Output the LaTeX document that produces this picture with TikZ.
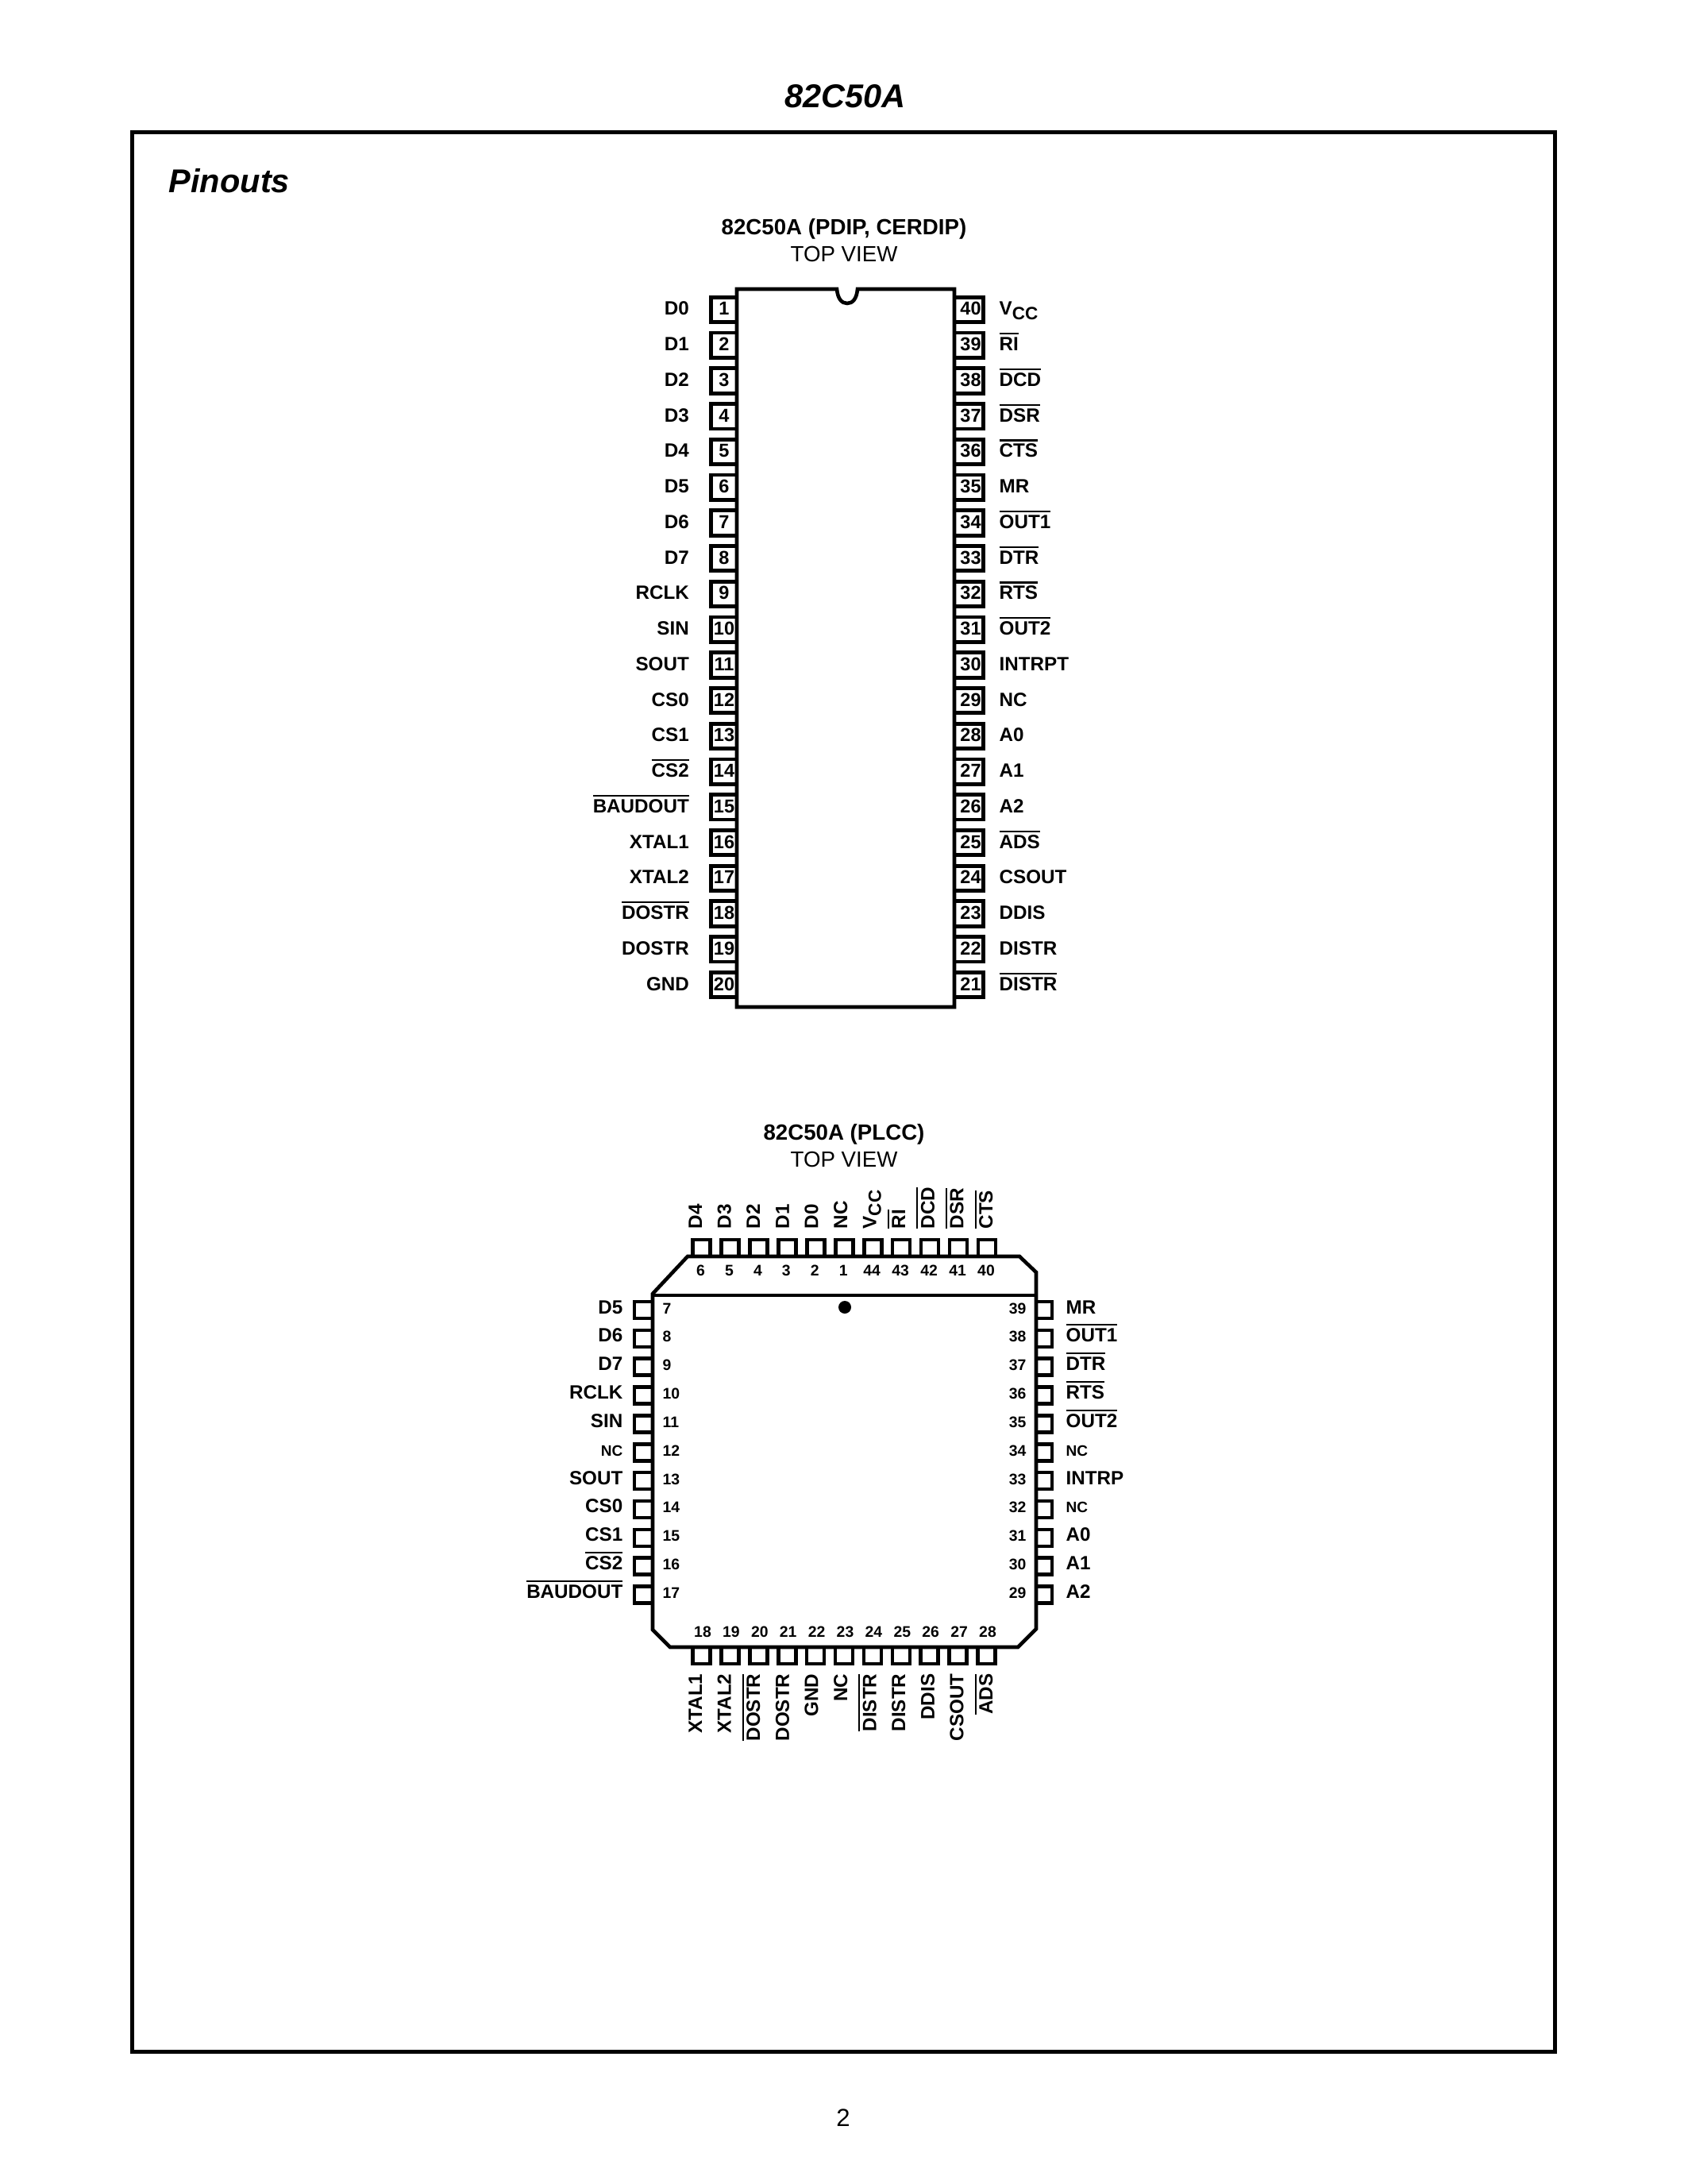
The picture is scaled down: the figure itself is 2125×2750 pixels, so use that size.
\documentclass[tikz,border=0pt]{standalone}
\usepackage{fontspec}
\setmainfont{Liberation Sans}
\newcommand\fs[1]{\fontsize{#1}{#1}\selectfont}
\newcommand\ol[1]{\setbox0=\hbox{#1}\rlap{\raisebox{5.9pt}{\rule{\wd0}{0.6pt}}}\box0}
\newcommand\vcc{V\raisebox{-1.7pt}{\fs{6.5}CC}}
\newcommand\smallncL{{\fs{5.5}NC}}
\tikzset{
  lbl/.style={inner sep=0pt,font=\fs{7}\bfseries},
  lblL/.style={lbl,anchor=base east},
  lblR/.style={lbl,anchor=base west},
  lblU/.style={lbl,rotate=90,anchor=base west},
  lblD/.style={lbl,rotate=90,anchor=base east},
  dipnum/.style={inner sep=0pt,font=\fs{6.8}\bfseries,anchor=base},
  pnum/.style={inner sep=0pt,font=\fs{5.6}\bfseries,anchor=base},
  pnumL/.style={pnum,anchor=base west},
  pnumR/.style={pnum,anchor=base east},
  head/.style={inner sep=0pt,font=\fs{8}\bfseries,anchor=base},
  view/.style={inner sep=0pt,font=\fs{8},anchor=base},
  title/.style={inner sep=0pt,font=\fs{12}\bfseries\itshape,anchor=base},
  frameline/.style={line width=5*0.28908pt,line join=miter},
  bodyline/.style={line width=4.6*0.28908pt,line join=miter},
  pinbox/.style={line width=4.8*0.28908pt,line join=miter},
  lccbox/.style={line width=4.6*0.28908pt,line join=miter},
}
\begin{document}
\begin{tikzpicture}[x=0.28908pt,y=-0.28908pt]
\useasboundingbox[fill=white] (0,0) rectangle (2125,2750);
% page
\node[title] (pagetitle) at (1064.5,135.5) {82C50A};
\draw[frameline] (166.5,167) rectangle (1958,2583);
\node[title,anchor=base west] (pinouts) at (212,243) {Pinouts};
\node[inner sep=0pt,font=\fs{9},anchor=base] (pageno) at (1062,2677) {2};
% DIP
\node[head] (diphead) at (1063,296) {82C50A (PDIP, CERDIP)};
\node[view] (dipview) at (1063,330) {TOP VIEW};
\draw[bodyline] (1054,364) .. controls (1055,376) and (1060,382) .. (1067,382) .. controls (1074,382) and (1079,376) .. (1080,364) -- (1202,364) -- (1202,1268) -- (928,1268) -- (928,364) -- cycle;
\draw[line width=1.4*0.28908pt] (1060,1269.5) -- (1202,1269.5);
\foreach \t [count=\i from 1] in {D0,D1,D2,D3,D4,D5,D6,D7,RCLK,SIN,SOUT,CS0,CS1,{\ol{CS2}},{\ol{BAUDOUT}},XTAL1,XTAL2,{\ol{DOSTR}},DOSTR,GND}{
  \pgfmathsetmacro\yy{390+44.74*(\i-1)}
  \draw[pinbox] (928,\yy-15.7) -- (895.5,\yy-15.7) -- (895.5,\yy+15.7) -- (928,\yy+15.7);
  \node[dipnum] (dipn\i) at (912,\yy+7) {\i};
  \node[lblL] (dipl\i) at (868.5,\yy+7) {\t};
}
\foreach \t [count=\j from 0] in {\vcc,{\ol{RI}},{\ol{DCD}},{\ol{DSR}},{\ol{CTS}},MR,{\ol{OUT1}},{\ol{DTR}},{\ol{RTS}},{\ol{OUT2}},INTRPT,NC,A0,A1,A2,{\ol{ADS}},CSOUT,DDIS,DISTR,{\ol{DISTR}}}{
  \pgfmathsetmacro\yy{390+44.74*\j}
  \pgfmathtruncatemacro\n{40-\j}
  \draw[pinbox] (1202,\yy-15.7) -- (1238.5,\yy-15.7) -- (1238.5,\yy+15.7) -- (1202,\yy+15.7);
  \node[dipnum] (dipn\n) at (1222.5,\yy+7) {\n};
  \node[lblR] (dipl\n) at (1258,\yy+7) {\t};
}
% PLCC
\node[head] (plcchead) at (1063,1435) {82C50A (PLCC)};
\node[view] (plccview) at (1063,1469) {TOP VIEW};
\draw[bodyline] (866,1582) -- (1284,1582) -- (1305,1602) -- (1305,2051) -- (1282,2074) -- (844,2074) -- (822,2052) -- (822,1629) -- cycle;
\draw[bodyline] (822,1631) -- (1305,1631);
\fill (1064,1646) circle[radius=8];
\foreach \t/\n [count=\j from 0] in {D4/6,D3/5,D2/4,D1/3,D0/2,NC/1,\vcc/44,{\ol{RI}}/43,{\ol{DCD}}/42,{\ol{DSR}}/41,{\ol{CTS}}/40}{
  \pgfmathsetmacro\xx{883.5+35.95*\j}
  \draw[lccbox] (\xx-11,1582) -- (\xx-11,1561) -- (\xx+11,1561) -- (\xx+11,1582);
  \node[pnum] (pn\n) at (\xx-1,1606) {\n};
  \node[lblU] (pl\n) at (884+36.6*\j,1548) {\t};
}
\foreach \t/\n [count=\j from 0] in {D5/7,D6/8,D7/9,RCLK/10,SIN/11,\smallncL/12,SOUT/13,CS0/14,CS1/15,{\ol{CS2}}/16,{\ol{BAUDOUT}}/17}{
  \pgfmathsetmacro\yy{1649.5+35.85*\j}
  \draw[lccbox] (822,\yy-10.5) -- (799,\yy-10.5) -- (799,\yy+10.5) -- (822,\yy+10.5);
  \node[pnumL] (pn\n) at (834,\yy+4.5) {\n};
  \node[lblL] (pl\n) at (785,\yy+4.5) {\t};
}
\foreach \t/\n [count=\j from 0] in {MR/39,{\ol{OUT1}}/38,{\ol{DTR}}/37,{\ol{RTS}}/36,{\ol{OUT2}}/35,\smallncL/34,INTRP/33,\smallncL/32,A0/31,A1/30,A2/29}{
  \pgfmathsetmacro\yy{1649.5+35.85*\j}
  \draw[lccbox] (1305,\yy-10.5) -- (1325,\yy-10.5) -- (1325,\yy+10.5) -- (1305,\yy+10.5);
  \node[pnumR] (pn\n) at (1293,\yy+4.5) {\n};
  \node[lblR] (pl\n) at (1342,\yy+4.5) {\t};
}
\foreach \t/\n [count=\j from 0] in {XTAL1/18,XTAL2/19,{\ol{DOSTR}}/20,DOSTR/21,GND/22,NC/23,{\ol{DISTR}}/24,DISTR/25,DDIS/26,CSOUT/27,{\ol{ADS}}/28}{
  \pgfmathsetmacro\xx{883.5+35.9*\j}
  \draw[lccbox] (\xx-11,2074) -- (\xx-11,2095) -- (\xx+11,2095) -- (\xx+11,2074);
  \node[pnum] (pn\n) at (\xx+1.5,2061) {\n};
  \node[lblD] (pl\n) at (884+36.6*\j,2107) {\t};
}
\end{tikzpicture}
\end{document}
